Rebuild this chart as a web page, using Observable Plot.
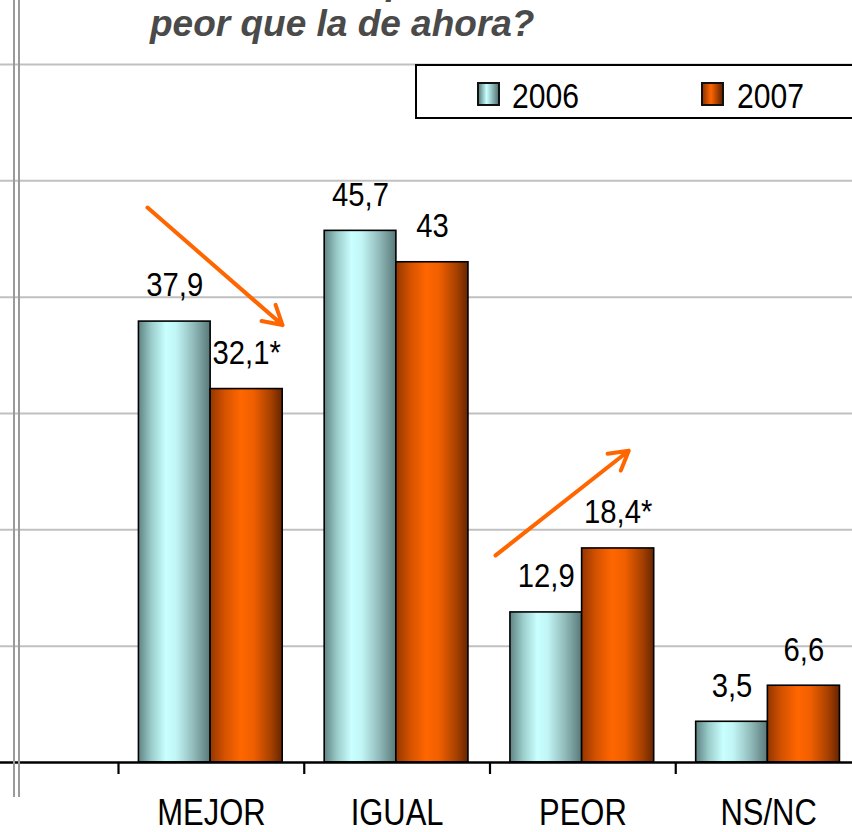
<!DOCTYPE html>
<html>
<head>
<meta charset="utf-8">
<script src="https://cdn.jsdelivr.net/npm/d3@7"></script>
<script src="https://cdn.jsdelivr.net/npm/@observablehq/plot@0.6"></script>
<style>
  body { margin: 0; background: #fff; }
  #wrap { position: relative; width: 852px; height: 832px; overflow: hidden; background: #fff; }
  #chart { position: absolute; left: 0; top: 0; }
  .title { position: absolute; left: 150px; font: italic bold 37px "Liberation Sans", Arial, sans-serif; color: #4a4a4a; line-height: 38px; white-space: nowrap; }
  .legend { position: absolute; left: 415px; top: 64px; width: 470px; height: 51px; border: 2.5px solid #000; background: #fff; }
  .sw { position: absolute; width: 19px; height: 20px; border: 2px solid #111; top: 16px; }
  .lt { position: absolute; font: 35px "Liberation Sans", Arial, sans-serif; line-height: 35px; color: #000; top: 12px; transform: scaleX(0.86); transform-origin: left center; }
  .vline { position: absolute; top: 0; height: 797px; width: 2.6px; background: #9a9a9a; }
  svg [aria-label^="x-axis"] line, svg [aria-label^="x-axis"] path { stroke-width: 2.2px; stroke: #000; }
</style>
</head>
<body>
<div id="wrap">
  <div id="chart"></div>
  <div class="title" style="top:-37px">¿Cree usted que su situación dentro de un año será mejor, igual o</div>
  <div class="title" style="top:5px">peor que la de ahora?</div>
  <div class="legend" id="legend"></div>
  <div class="vline" style="left:12.7px"></div>
  <div class="vline" style="left:17.7px"></div>
</div>
<script>
// ---- data ----
const categories = ["MEJOR", "IGUAL", "PEOR", "NS/NC"];
const years = ["2006", "2007"];
const values2006 = [37.9, 45.7, 12.9, 3.5];
const values2007 = [32.1, 43, 18.4, 6.6];
const labels2006 = ["37,9", "45,7", "12,9", "3,5"];
const labels2007 = ["32,1*", "43", "18,4*", "6,6"];
const gridValues = [10, 20, 30, 40, 50, 60];
// trend arrows in (category index, percent) units
const arrowX1 = [0.156, 2.03];
const arrowY1 = [47.7, 17.8];
const arrowX2 = [0.883, 2.747];
const arrowY2 = [37.6, 26.8];

// ---- tables ----
const rows2006 = categories.map((c, i) => ({cat: c, i, value: values2006[i], label: labels2006[i]}));
const rows2007 = categories.map((c, i) => ({cat: c, i, value: values2007[i], label: labels2007[i]}));
const arrows = arrowX1.map((x, k) => ({x1: x, y1: arrowY1[k], x2: arrowX2[k], y2: arrowY2[k]}));
const catRows = categories.map((c, i) => ({cat: c, i}));

const FONT = "Liberation Sans, Arial, sans-serif";

const svg = Plot.plot({
  width: 852,
  height: 832,
  marginTop: 0,
  marginLeft: 0,
  marginRight: 0,
  marginBottom: 70,
  style: {background: "transparent"},
  x: {domain: [0, 4], range: [118, 861], ticks: [0, 1, 2, 3], tickSize: 12, tickFormat: () => "", label: null},
  y: {domain: [0, 60], range: [762, 64], axis: null},
  marks: [
    Plot.ruleY(gridValues, {stroke: "#c0c0c0", strokeWidth: 2}),
    Plot.rectY(rows2006, {x1: d => d.i + 0.11, x2: d => d.i + 0.496, y: "value", fill: "url(#g2006)", stroke: "#000", strokeWidth: 1.6}),
    Plot.rectY(rows2007, {x1: d => d.i + 0.496, x2: d => d.i + 0.884, y: "value", fill: "url(#g2007)", stroke: "#000", strokeWidth: 1.6}),
    Plot.ruleY([0], {stroke: "#000", strokeWidth: 2.5}),
    Plot.text(rows2006, {x: d => d.i + 0.303, y: "value", text: "label", dy: -36, fontSize: 34, fontFamily: FONT, fill: "#000"}),
    Plot.text(rows2007, {x: d => d.i + 0.69, y: "value", text: "label", dy: -36, fontSize: 34, fontFamily: FONT, fill: "#000"}),
    Plot.text(catRows, {x: d => d.i + 0.5, y: () => 0, text: "cat", dy: 51, fontSize: 36, fontFamily: FONT, fill: "#000"}),
    Plot.arrow(arrows, {x1: "x1", y1: "y1", x2: "x2", y2: "y2", stroke: "#ff6600", strokeWidth: 4, headLength: 8, headAngle: 60})
  ]
});

svg.insertAdjacentHTML("afterbegin", `
<defs>
  <linearGradient id="g2006" x1="0" y1="0" x2="1" y2="0">
    <stop offset="0" stop-color="#5f8383"/>
    <stop offset="0.18" stop-color="#9accca"/>
    <stop offset="0.38" stop-color="#c9ffff"/>
    <stop offset="0.52" stop-color="#c2f6f6"/>
    <stop offset="0.78" stop-color="#8fb7b7"/>
    <stop offset="1" stop-color="#587878"/>
  </linearGradient>
  <linearGradient id="g2007" x1="0" y1="0" x2="1" y2="0">
    <stop offset="0" stop-color="#943600"/>
    <stop offset="0.2" stop-color="#d45200"/>
    <stop offset="0.42" stop-color="#ff6600"/>
    <stop offset="0.6" stop-color="#f05f00"/>
    <stop offset="0.85" stop-color="#a43f00"/>
    <stop offset="1" stop-color="#672500"/>
  </linearGradient>
</defs>`);

document.getElementById("chart").appendChild(svg);

// condense the labels horizontally (narrow typeface look), positions untouched
svg.querySelectorAll('g[aria-label="text"] text').forEach(t => {
  const w = t.getComputedTextLength();
  if (w > 0) {
    t.setAttribute("textLength", (w * 0.86).toFixed(1));
    t.setAttribute("lengthAdjust", "spacingAndGlyphs");
  }
});

// legend (HTML)
const legend = document.getElementById("legend");
const swatchBg = {
  "2006": "linear-gradient(to right, #5f8383, #c9ffff 40%, #587878)",
  "2007": "linear-gradient(to right, #943600, #ff6600 42%, #672500)"
};
const swX = [60, 284];
const txX = [95, 320];
years.forEach((y, k) => {
  const s = document.createElement("div");
  s.className = "sw";
  s.style.left = swX[k] + "px";
  s.style.background = swatchBg[y];
  legend.appendChild(s);
  const t = document.createElement("div");
  t.className = "lt";
  t.style.left = txX[k] + "px";
  t.textContent = y;
  legend.appendChild(t);
});
</script>
</body>
</html>
